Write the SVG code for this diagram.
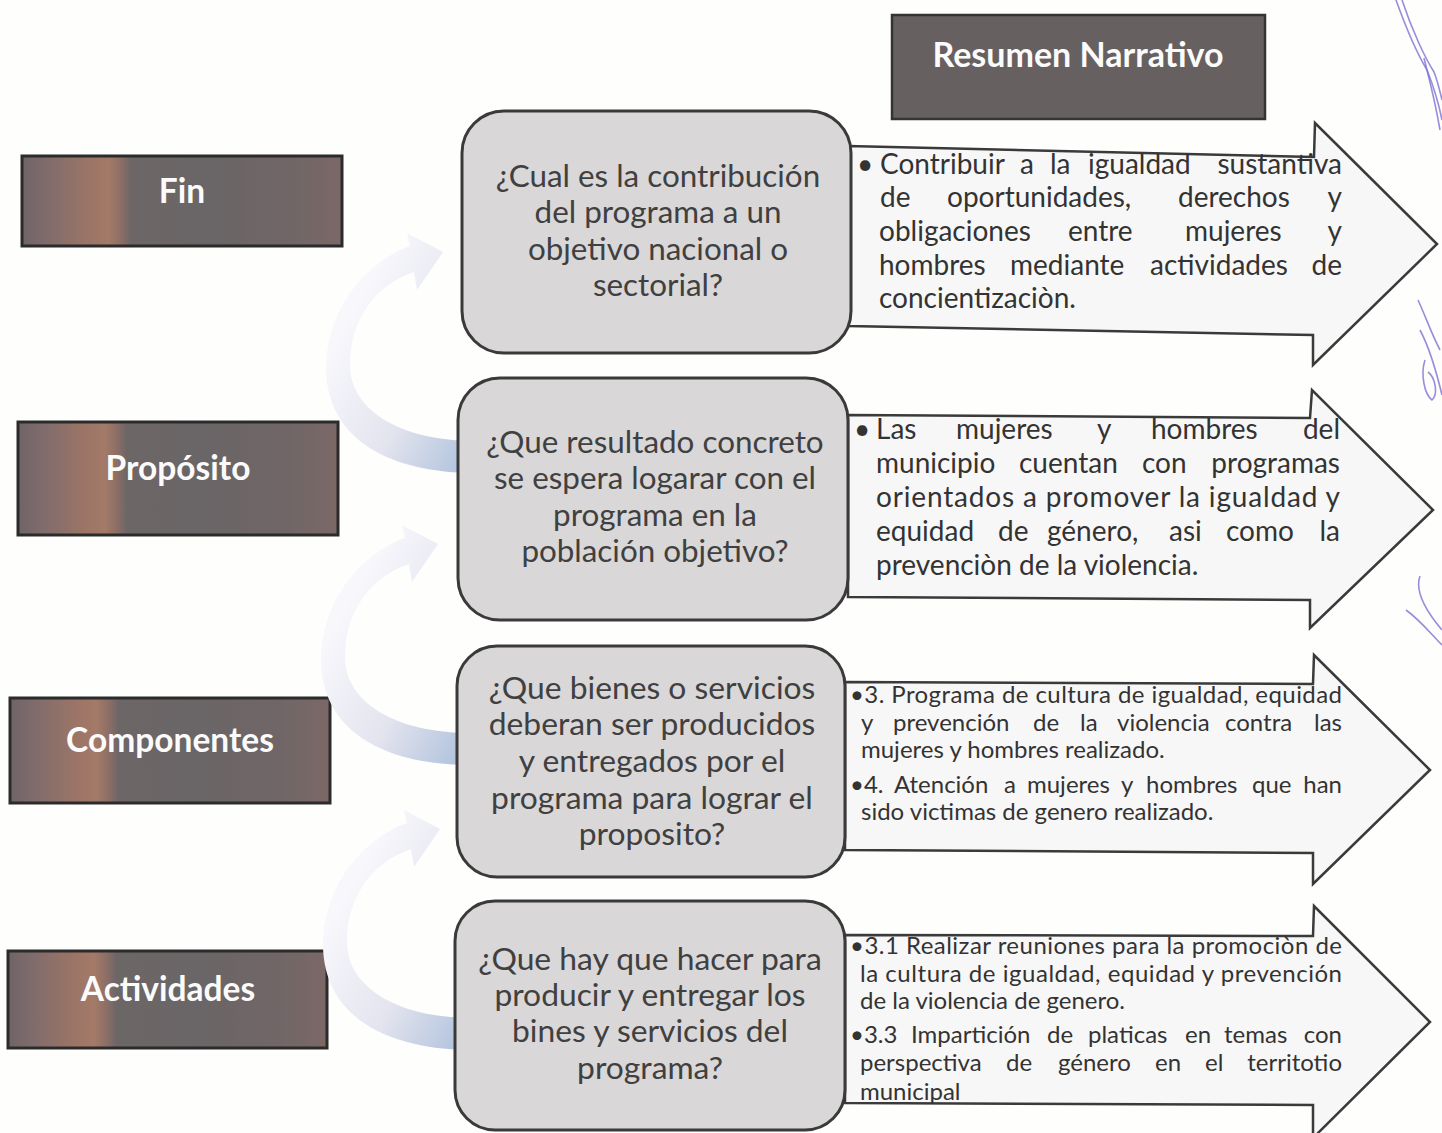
<svg xmlns="http://www.w3.org/2000/svg" width="1442" height="1133" viewBox="0 0 1442 1133">
<defs>
<linearGradient id="lab" x1="0" y1="0" x2="1" y2="0">
<stop offset="0" stop-color="#6f6468"/>
<stop offset="0.08" stop-color="#806c6c"/>
<stop offset="0.2" stop-color="#9a7466"/>
<stop offset="0.27" stop-color="#a47a68"/>
<stop offset="0.31" stop-color="#8c6e66"/>
<stop offset="0.34" stop-color="#6c6667"/>
<stop offset="0.6" stop-color="#6a6566"/>
<stop offset="0.85" stop-color="#716667"/>
<stop offset="1" stop-color="#7b6866"/>
</linearGradient>
<linearGradient id="curv" x1="0.2" y1="0.3" x2="1" y2="1">
<stop offset="0" stop-color="#f7f7fc"/>
<stop offset="0.5" stop-color="#e3e4ee"/>
<stop offset="1" stop-color="#a9bedb"/>
</linearGradient>
<style>
.lab{fill:url(#lab);stroke:#2b2b2b;stroke-width:3}
.labt{font-family:Lato,"Open Sans",sans-serif;font-weight:bold;font-size:33.5px;fill:#fbfbfb;text-anchor:middle}
.q{fill:#d9d7d8;stroke:#3a3a3a;stroke-width:3}
.qt{font-family:Lato,"Open Sans",sans-serif;font-size:31.4px;fill:#404040;text-anchor:middle}
.qb{font-size:31.8px}
.ar{fill:#f8f7f7;stroke:#3a3a3a;stroke-width:2.5;stroke-linejoin:miter}
.t1{font-family:Lato,"Open Sans",sans-serif;font-size:28px;fill:#333}
.t2{font-family:Lato,"Open Sans",sans-serif;font-size:24px;fill:#333}
.r{text-anchor:end}
.curve{fill:url(#curv)}
.pen{fill:none;stroke:#7d72d2;stroke-width:1.6;opacity:0.8}
</style>
</defs>
<rect width="1442" height="1133" fill="#fefefd"/>

<g id="header">
<rect x="892" y="15" width="373" height="104" fill="#676061" stroke="#343434" stroke-width="2.5"/>
<text x="1078" y="67" class="labt" style="font-size:34px">Resumen Narrativo</text>
</g>

<g id="fin">
<rect class="lab" x="22" y="156" width="320" height="90"/>
<text class="labt" x="182" y="203">Fin</text>
</g>
<g id="proposito">
<rect class="lab" x="18" y="422" width="320" height="113"/>
<text class="labt" x="178" y="480">Propósito</text>
</g>
<g id="componentes">
<rect class="lab" x="10" y="698" width="320" height="105"/>
<text class="labt" x="170" y="752">Componentes</text>
</g>
<g id="actividades">
<rect class="lab" x="8" y="951" width="319" height="97"/>
<text class="labt" x="168" y="1001">Actividades</text>
</g>

<g id="resumen-fin">
<path class="ar" d="M848,146 L1314,157 L1315,123 L1437,244 L1313,365 L1313,335 L848,326 Z"/>
<text class="t1" x="857" y="174">•</text>
<text class="t1" y="174"><tspan x="880">Contribuir</tspan><tspan x="1020">a</tspan><tspan x="1050">la</tspan><tspan x="1088">igualdad</tspan></text>
<text class="t1 r" x="1342" y="174">sustantiva</text>
<text class="t1" y="207"><tspan x="880">de</tspan><tspan x="947">oportunidades,</tspan><tspan x="1178">derechos</tspan></text>
<text class="t1 r" x="1342" y="207">y</text>
<text class="t1" y="241"><tspan x="879">obligaciones</tspan><tspan x="1068">entre</tspan><tspan x="1185">mujeres</tspan></text>
<text class="t1 r" x="1342" y="241">y</text>
<text class="t1" y="275"><tspan x="879">hombres</tspan><tspan x="1010">mediante</tspan><tspan x="1150">actividades</tspan></text>
<text class="t1 r" x="1342" y="275">de</text>
<text class="t1" x="879" y="308">concientizaciòn.</text>
</g>

<g id="resumen-proposito">
<path class="ar" d="M848,415 L1310,418 L1312,390 L1433,510 L1310,628 L1310,600 L848,597 Z"/>
<text class="t1" x="854" y="439">•</text>
<text class="t1" y="439"><tspan x="876">Las</tspan><tspan x="956">mujeres</tspan><tspan x="1097">y</tspan><tspan x="1151">hombres</tspan></text>
<text class="t1 r" x="1340" y="439">del</text>
<text class="t1" y="473"><tspan x="876">municipio</tspan><tspan x="1019">cuentan</tspan><tspan x="1142">con</tspan></text>
<text class="t1 r" x="1340" y="473">programas</text>
<text class="t1" x="876" y="507" textLength="464" lengthAdjust="spacing">orientados a promover la igualdad y</text>
<text class="t1" y="541"><tspan x="876">equidad</tspan><tspan x="998">de</tspan><tspan x="1047">género,</tspan><tspan x="1169">asi</tspan><tspan x="1226">como</tspan></text>
<text class="t1 r" x="1340" y="541">la</text>
<text class="t1" x="876" y="575">prevenciòn de la violencia.</text>
</g>

<g id="resumen-componentes">
<path class="ar" d="M845,682 L1313,684 L1314,655 L1430,770 L1313,884 L1313,853 L845,850 Z"/>
<text class="t2" x="850" y="703" textLength="492" lengthAdjust="spacing">•3. Programa de cultura de igualdad, equidad</text>
<text class="t2" y="731"><tspan x="861">y</tspan><tspan x="893">prevención</tspan><tspan x="1033">de</tspan><tspan x="1080">la</tspan><tspan x="1117">violencia</tspan><tspan x="1225">contra</tspan></text>
<text class="t2 r" x="1342" y="731">las</text>
<text class="t2" x="861" y="758">mujeres y hombres realizado.</text>
<text class="t2" y="793"><tspan x="850">•4.</tspan><tspan x="894">Atención</tspan><tspan x="1004">a</tspan><tspan x="1027">mujeres</tspan><tspan x="1121">y</tspan><tspan x="1146">hombres</tspan><tspan x="1252">que</tspan></text>
<text class="t2 r" x="1342" y="793">han</text>
<text class="t2" x="861" y="820">sido victimas de genero realizado.</text>
</g>

<g id="resumen-actividades">
<path class="ar" d="M845,935 L1313,936 L1314,906 L1430,1022 L1313,1138 L1313,1105 L845,1103 Z"/>
<text class="t2" x="850" y="954" textLength="492" lengthAdjust="spacing">•3.1 Realizar reuniones para la promociòn de</text>
<text class="t2" x="860" y="982" textLength="482" lengthAdjust="spacing">la cultura de igualdad, equidad y prevención</text>
<text class="t2" x="860" y="1009">de la violencia de genero.</text>
<text class="t2" y="1043"><tspan x="850">•3.3</tspan><tspan x="911">Impartición</tspan><tspan x="1047">de</tspan><tspan x="1088">platicas</tspan><tspan x="1185">en</tspan><tspan x="1224">temas</tspan></text>
<text class="t2 r" x="1342" y="1043">con</text>
<text class="t2" y="1071"><tspan x="860">perspectiva</tspan><tspan x="1006">de</tspan><tspan x="1058">género</tspan><tspan x="1155">en</tspan><tspan x="1205">el</tspan></text>
<text class="t2 r" x="1342" y="1071">territotio</text>
<text class="t2" x="860" y="1100">municipal</text>
</g>

<g id="connectors">
<path class="curve" d="M476,473 C390,473 328,440 326,370 C326,310 365,262 410,246 L407,233 L443,252 L417,290 L414,272 C375,285 350,320 350,365 C350,410 400,441 476,441 Z"/>
<path class="curve" transform="translate(-5,292)" d="M476,473 C390,473 328,440 326,370 C326,310 365,262 410,246 L407,233 L443,252 L417,290 L414,272 C375,285 350,320 350,365 C350,410 400,441 476,441 Z"/>
<path class="curve" transform="translate(-3,577)" d="M476,473 C390,473 328,440 326,370 C326,310 365,262 410,246 L407,233 L443,252 L417,290 L414,272 C375,285 350,320 350,365 C350,410 400,441 476,441 Z"/>
</g>

<g id="q-fin">
<rect class="q" x="462" y="111" width="389" height="242" rx="42"/>
<text class="qt" x="658" y="187">¿Cual es la contribución</text>
<text class="qt" x="658" y="223">del programa a un</text>
<text class="qt" x="658" y="260">objetivo nacional o</text>
<text class="qt" x="658" y="296">sectorial?</text>
</g>
<g id="q-proposito">
<rect class="q" x="458" y="378" width="390" height="242" rx="42"/>
<text class="qt" x="655" y="453">¿Que resultado concreto</text>
<text class="qt" x="655" y="489">se espera logarar con el</text>
<text class="qt" x="655" y="526">programa en la</text>
<text class="qt" x="655" y="562">población objetivo?</text>
</g>
<g id="q-componentes">
<rect class="q" x="457" y="646" width="388" height="231" rx="40"/>
<text class="qt qb" x="652" y="699">¿Que bienes o servicios</text>
<text class="qt qb" x="652" y="735">deberan ser producidos</text>
<text class="qt qb" x="652" y="772">y entregados por el</text>
<text class="qt qb" x="652" y="809">programa para lograr el</text>
<text class="qt qb" x="652" y="845">proposito?</text>
</g>
<g id="q-actividades">
<rect class="q" x="455" y="901" width="390" height="229" rx="40"/>
<text class="qt qb" x="650" y="970">¿Que hay que hacer para</text>
<text class="qt qb" x="650" y="1006">producir y entregar los</text>
<text class="qt qb" x="650" y="1042">bines y servicios del</text>
<text class="qt qb" x="650" y="1079">programa?</text>
</g>

<g id="pen-marks">
<path class="pen" d="M1396,0 C1405,25 1418,55 1427,70 C1433,85 1438,100 1442,120"/>
<path class="pen" d="M1402,0 C1412,30 1425,58 1434,72 C1438,82 1440,92 1442,100"/>
<path class="pen" d="M1424,58 C1428,75 1434,95 1440,130"/>
<path class="pen" d="M1418,300 C1425,315 1432,335 1440,350"/>
<path class="pen" d="M1425,360 C1420,375 1425,395 1432,400 C1438,395 1436,378 1428,372"/>
<path class="pen" d="M1420,330 C1428,345 1436,370 1442,395"/>
<path class="pen" d="M1406,610 C1420,620 1432,635 1442,645"/>
<path class="pen" d="M1420,576 C1415,590 1425,610 1442,630"/>
</g>
</svg>
